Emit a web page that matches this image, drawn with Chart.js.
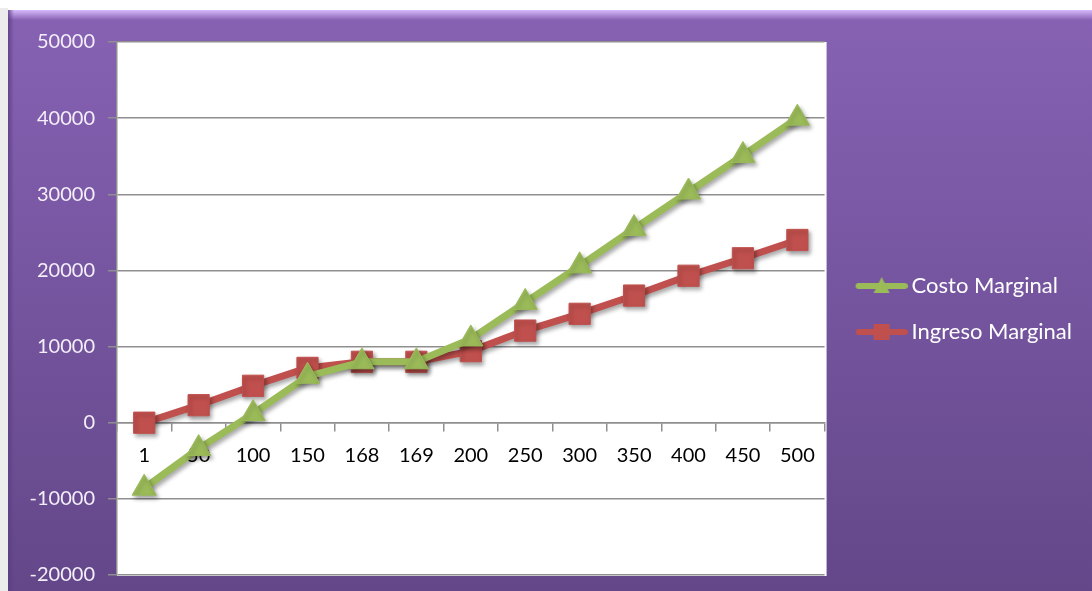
<!DOCTYPE html>
<html>
<head>
<meta charset="utf-8">
<script src="https://cdn.jsdelivr.net/npm/chart.js@4"></script>
<style>
  html, body { margin: 0; padding: 0; background: #ffffff; }
  #wrap { width: 1092px; height: 591px; position: relative; }
</style>
</head>
<body>
<div id="wrap"><canvas id="c" width="1092" height="591"></canvas></div>
<script>
// ---- data ----
const categories = ['1', '50', '100', '150', '168', '169', '200', '250', '300', '350', '400', '450', '500'];
const costoMarginal = [-8600, -3400, 1200, 6100, 8000, 8000, 11000, 15800, 20600, 25500, 30300, 35100, 40000];
const ingresoMarginal = [0, 2300, 4850, 7200, 8000, 8000, 9400, 12100, 14300, 16700, 19300, 21600, 24000];
const seriesNames = ['Costo Marginal', 'Ingreso Marginal'];
const yMin = -20000, yMax = 50000, yStep = 10000;

const GREEN = '#9BBB59';
const RED = '#C0504D';
const GRID = '#8f8f8f';
const FONT = 'Lato';

function legendIcon(color, style) {
  const c = document.createElement('canvas');
  c.width = 66; c.height = 22;
  const g = c.getContext('2d');
  g.strokeStyle = color; g.fillStyle = color;
  g.lineWidth = 6; g.lineCap = 'round';
  g.beginPath(); g.moveTo(17, 11); g.lineTo(63, 11); g.stroke();
  const cx = 40, cy = 11;
  g.beginPath();
  if (style === 'rect') {
    g.rect(cx - 8, cy - 8, 16, 16);
  } else {
    g.moveTo(cx, cy - 9); g.lineTo(cx + 8, cy + 7); g.lineTo(cx - 8, cy + 7); g.closePath();
  }
  g.fill();
  return c;
}
const icons = [legendIcon(GREEN, 'triangle'), legendIcon(RED, 'rect')];

const bgPlugin = {
  id: 'bg',
  afterLayout(chart) {
    const lg = chart.legend;
    if (lg) {
      const h = lg.bottom - lg.top;
      lg.top = 251;
      lg.bottom = lg.top + h;
    }
  },
  beforeDraw(chart) {
    const ctx = chart.ctx;
    const W = chart.width, H = chart.height;
    ctx.save();
    ctx.fillStyle = '#ffffff';
    ctx.fillRect(0, 0, W, H);
    ctx.fillStyle = '#ececec';
    ctx.fillRect(0, 8, 8, H - 8);
    const gr = ctx.createLinearGradient(0, 10, 0, H);
    gr.addColorStop(0, '#8762B4');
    gr.addColorStop(1, '#634789');
    ctx.fillStyle = gr;
    ctx.fillRect(8, 10, W - 8, H - 10);
    const tb = ctx.createLinearGradient(0, 10, 0, 20);
    tb.addColorStop(0, 'rgba(214,184,250,1)');
    tb.addColorStop(1, 'rgba(214,184,250,0)');
    ctx.fillStyle = tb;
    ctx.fillRect(8, 10, W - 8, 10);
    const lb = ctx.createLinearGradient(8, 0, 14, 0);
    lb.addColorStop(0, 'rgba(90,60,130,0.8)');
    lb.addColorStop(1, 'rgba(90,60,130,0)');
    ctx.fillStyle = lb;
    ctx.fillRect(8, 10, 6, H - 10);
    const a = chart.chartArea;
    ctx.fillStyle = '#ffffff';
    ctx.fillRect(a.left, a.top, a.right - a.left + 2, a.bottom - a.top + 1);
    ctx.restore();
  },
  beforeDatasetsDraw(chart) {
    const ctx = chart.ctx;
    ctx.save();
    ctx.shadowColor = 'rgba(0,0,0,0.35)';
    ctx.shadowBlur = 4;
    ctx.shadowOffsetX = 2;
    ctx.shadowOffsetY = 3;
  },
  afterDatasetsDraw(chart) {
    chart.ctx.restore();
  }
};

new Chart(document.getElementById('c'), {
  type: 'line',
  data: {
    labels: categories,
    datasets: [
      {
        label: seriesNames[0],
        data: costoMarginal,
        borderColor: GREEN,
        backgroundColor: GREEN,
        borderWidth: 7,
        pointStyle: 'triangle',
        pointRadius: 14,
        pointBorderWidth: 1,
        pointBorderColor: GREEN,
        pointBackgroundColor: GREEN,
        borderJoinStyle: 'round',
        tension: 0
      },
      {
        label: seriesNames[1],
        data: ingresoMarginal,
        borderColor: RED,
        backgroundColor: RED,
        borderWidth: 7,
        pointStyle: 'rect',
        pointRadius: 15,
        pointBorderWidth: 1,
        pointBorderColor: RED,
        pointBackgroundColor: RED,
        borderJoinStyle: 'round',
        tension: 0
      }
    ]
  },
  options: {
    responsive: false,
    devicePixelRatio: 1,
    animation: false,
    layout: { padding: { left: 0, top: 42, right: 10, bottom: 13 } },
    scales: {
      x: {
        type: 'category',
        position: { y: 0 },
        offset: true,
        afterFit(scale) { scale.height = 0; },
        grid: { drawOnChartArea: false, drawTicks: true, tickLength: 8, offset: true, color: GRID, lineWidth: 1.5 },
        border: { display: true, color: GRID, width: 1.5 },
        ticks: { color: '#000000', font: { family: FONT, size: 20 }, padding: 13, maxRotation: 0, autoSkip: false }
      },
      y: {
        min: yMin,
        max: yMax,
        afterFit(scale) { scale.width = 117; scale.paddingTop = 0; scale.paddingBottom = 0; },
        grid: { color: GRID, lineWidth: 1.5, tickLength: 9, drawTicks: true },
        border: { display: true, color: GRID, width: 1.5 },
        ticks: {
          stepSize: yStep,
          color: '#F3EEF9',
          font: { family: FONT, size: 20 },
          padding: 13,
          callback: (v) => String(v)
        }
      }
    },
    plugins: {
      tooltip: { enabled: false },
      legend: {
        position: 'right',
        align: 'start',
        labels: {
          color: '#FFFFFF',
          font: { family: FONT, size: 22 },
          padding: 24,
          usePointStyle: true,
          pointStyleWidth: 52,
          boxHeight: 22,
          generateLabels(chart) {
            return chart.data.datasets.map((ds, i) => ({
              text: ds.label,
              pointStyle: icons[i],
              fillStyle: ds.borderColor,
              strokeStyle: ds.borderColor,
              fontColor: '#FFFFFF',
              lineWidth: 0,
              hidden: false,
              datasetIndex: i
            }));
          }
        }
      }
    }
  },
  plugins: [bgPlugin]
});
</script>
</body>
</html>
